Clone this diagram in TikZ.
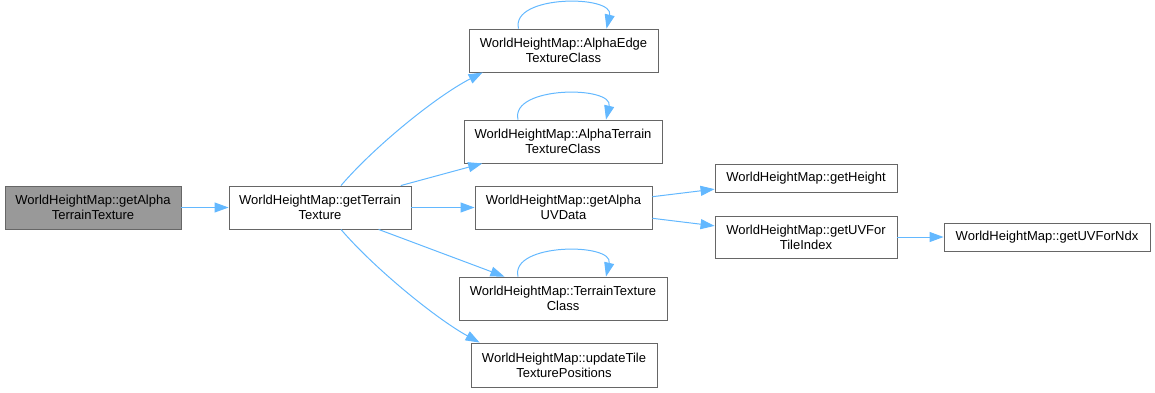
\documentclass[tikz,border=0pt]{standalone}
\usepackage{fontspec}
\setmainfont{Liberation Sans}
\usetikzlibrary{arrows.meta, positioning}
\definecolor{edgeblue}{HTML}{63B8FF}
\definecolor{rootgray}{HTML}{999999}
\definecolor{framegray}{HTML}{666666}
\tikzset{
    fn/.style={draw=framegray, fill=white, align=center, inner sep=0pt,
        line width=0.9pt, font=\fontsize{13}{15}\selectfont},
    root/.style={fn, fill=rootgray},
    call/.style={-{Triangle[length=14pt, width=10pt]}, draw=edgeblue, line width=1pt}
}

\begin{document}
\begin{tikzpicture}[x=1pt, y=-1pt]
    \useasboundingbox (0,0) rectangle (1155,392);
    % Functions
    \node[root, minimum width=176pt, minimum height=43pt] (getalpha) at (93,207.5)
        {WorldHeightMap::getAlpha\\TerrainTexture};
    \node[fn, minimum width=182pt, minimum height=43pt] (getterrain) at (320,207.5)
        {WorldHeightMap::getTerrain\\Texture};
    \node[fn, minimum width=189pt, minimum height=43pt] (edgeclass) at (563.5,50.5)
        {WorldHeightMap::AlphaEdge\\TextureClass};
    \node[fn, minimum width=198pt, minimum height=43pt] (alphaclass) at (563,141.5)
        {WorldHeightMap::AlphaTerrain\\TextureClass};
    \node[fn, minimum width=177pt, minimum height=43pt] (uvdata) at (563.5,207.5)
        {WorldHeightMap::getAlpha\\UVData};
    \node[fn, minimum width=208pt, minimum height=43pt] (terrainclass) at (563,298.5)
        {WorldHeightMap::TerrainTexture\\Class};
    \node[fn, minimum width=186pt, minimum height=44pt] (updatetile) at (564,365)
        {WorldHeightMap::updateTile\\TexturePositions};
    \node[fn, minimum width=182pt, minimum height=28pt] (height) at (806,178)
        {WorldHeightMap::getHeight};
    \node[fn, minimum width=182pt, minimum height=42pt] (uvtile) at (806,237)
        {WorldHeightMap::getUVFor\\TileIndex};
    \node[fn, minimum width=206pt, minimum height=28pt] (uvndx) at (1047,237)
        {WorldHeightMap::getUVForNdx};
    % Calls
    \draw[call] (getalpha) -- (getterrain);
    \draw[call] ([xshift=21pt]getterrain.north) .. controls (373,148) and (435,97)
        .. ([xshift=14pt]edgeclass.south west);
    \draw[call] (getterrain) -- (alphaclass);
    \draw[call] (getterrain) -- (uvdata);
    \draw[call] (getterrain) -- (terrainclass);
    \draw[call] ([xshift=21pt]getterrain.south) .. controls (373,267) and (435,318)
        .. ([xshift=9pt]updatetile.north west);
    \draw[call] (uvdata) -- (height);
    \draw[call] (uvdata) -- (uvtile);
    \draw[call] (uvtile) -- (uvndx);
    % Recursive calls
    \foreach \cls in {edgeclass, alphaclass, terrainclass}
        \draw[call] ([xshift=-45pt]\cls.north) .. controls +(-8,-34) and +(8,-34)
            .. ([xshift=43pt]\cls.north);
\end{tikzpicture}
\end{document}
